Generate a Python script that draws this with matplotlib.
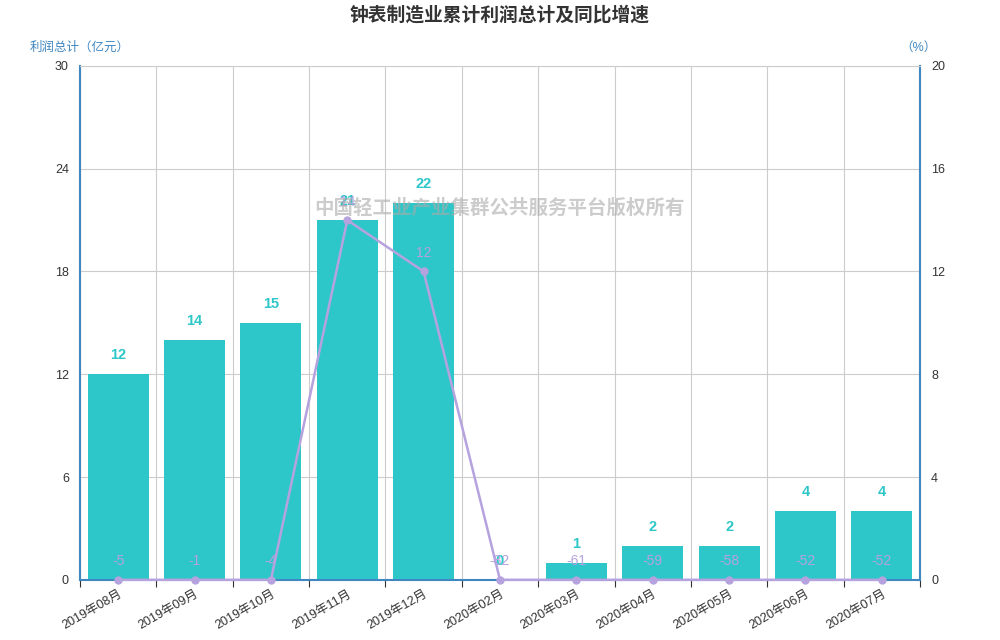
import numpy as np
import matplotlib.pyplot as plt

plt.rcParams['font.family'] = ['Liberation Sans', 'Noto Sans CJK SC', 'DejaVu Sans']

months = ['2019年08月', '2019年09月', '2019年10月', '2019年11月', '2019年12月',
          '2020年02月', '2020年03月', '2020年04月', '2020年05月', '2020年06月', '2020年07月']
profit = [12, 14, 15, 21, 22, 0, 1, 2, 2, 4, 4]
growth = [-5, -1, -4, 14, 12, -82, -61, -59, -58, -52, -52]

bar_color = '#2ec7c9'
line_color = '#b6a2de'
axis_color = '#3f87c0'

fig = plt.figure(figsize=(10, 6.4), dpi=100)
ax = fig.add_axes([0.08, 0.094, 0.84, 0.803])
ax2 = ax.twinx()

x = np.arange(len(months))
ax.bar(x, profit, width=0.8, color=bar_color, zorder=2)
for xi, v in zip(x, profit):
    ax.text(xi, v + 0.7, str(v), ha='center', va='bottom', color=bar_color,
            fontsize=10.5, fontweight='bold', zorder=5)

ax.set_xlim(-0.5, len(months) - 0.5)
ax.set_ylim(0, 30)
ax.set_yticks([0, 6, 12, 18, 24, 30])
ax.set_xticks(np.append(x - 0.5, x[-1] + 0.5))
ax.set_xticklabels([''] * (len(months) + 1))
ax.set_xticks(x, minor=True)
ax.set_xticklabels(months, minor=True, rotation=30, ha='right', rotation_mode='anchor',
                   fontsize=9, color='#333333')
ax.tick_params(axis='x', which='minor', length=0, pad=6)
ax.tick_params(axis='x', which='major', length=5, color='#333333', direction='out')
ax.tick_params(axis='y', length=0, labelsize=9, labelcolor='#333333', pad=8)
ax.grid(True, which='major', color='#cccccc', linewidth=0.8, zorder=0)
ax.set_axisbelow(True)

for side in ['left', 'right', 'bottom']:
    ax.spines[side].set_color(axis_color)
    ax.spines[side].set_linewidth(1.5)
ax.spines['top'].set_color('#cccccc')
ax.spines['top'].set_linewidth(0.8)

# line on the right axis; values below zero sit on the axis floor
g = np.clip(np.array(growth, dtype=float), 0, None)
ax2.plot(x, g, color=line_color, linewidth=1.8, marker='o', markersize=5,
         zorder=4, clip_on=False)
for xi, gi, v in zip(x, g, growth):
    ax2.text(xi, gi + 0.45, str(v), ha='center', va='bottom', color=line_color,
             fontsize=10, zorder=4)
ax2.set_ylim(0, 20)
ax2.set_yticks([0, 4, 8, 12, 16, 20])
ax2.tick_params(axis='y', length=0, labelsize=9, labelcolor='#333333', pad=8)
for s in ax2.spines.values():
    s.set_visible(False)
ax.set_zorder(ax2.get_zorder() - 1)
ax.patch.set_visible(True)
ax2.patch.set_visible(False)

fig.text(0.5, 0.977, '钟表制造业累计利润总计及同比增速', ha='center', va='center',
         fontsize=13.5, fontweight='bold', color='#333333')
fig.text(0.03, 0.925, '利润总计（亿元）', ha='left', va='center', fontsize=9, color=axis_color)
fig.text(0.937, 0.925, '（%）', ha='right', va='center', fontsize=9, color=axis_color)
fig.text(0.5, 0.675, '中国轻工业产业集群公共服务平台版权所有', ha='center', va='center',
         fontsize=14, fontweight='bold', color='#aaaaaa', alpha=0.6, zorder=20)

fig.savefig('out.png', dpi=100)
